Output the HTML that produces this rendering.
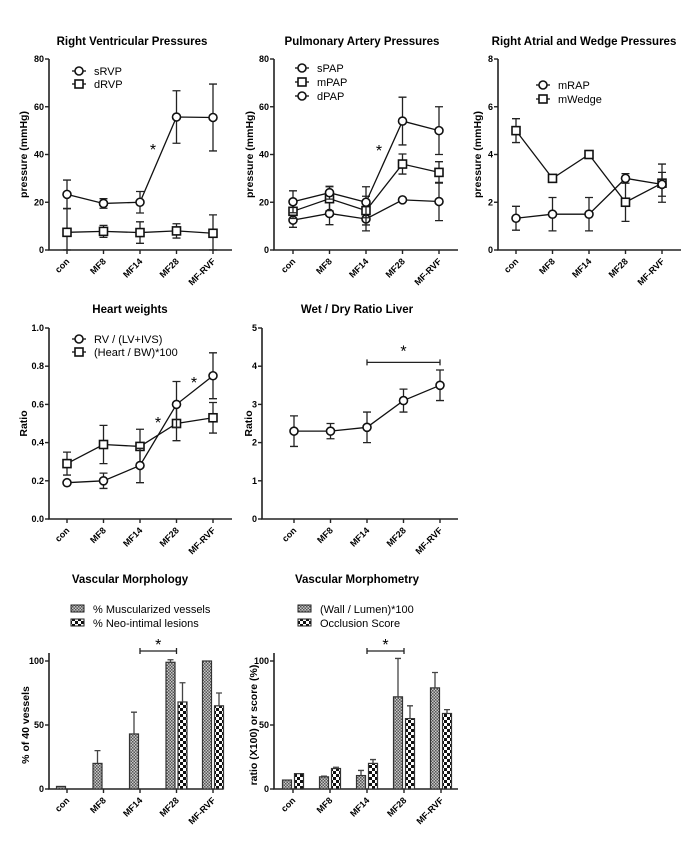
<!DOCTYPE html>
<html><head><meta charset="utf-8">
<style>
html,body{margin:0;padding:0;background:#fff;}
svg{display:block;font-family:"Liberation Sans",Arial,sans-serif;}
.t{font-weight:bold;font-size:11.5px;}
.tk{font-weight:bold;font-size:9px;}
.lg{font-size:11px;}
</style></head>
<body>
<svg id="fig" width="700" height="850" viewBox="0 0 700 850" xmlns="http://www.w3.org/2000/svg">
<defs>
<pattern id="p1" width="3" height="3" patternUnits="userSpaceOnUse"><rect width="3" height="3" fill="#c8c8c8"/><rect width="1.5" height="1.5" fill="#555"/><rect x="1.5" y="1.5" width="1.5" height="1.5" fill="#555"/></pattern>
<pattern id="p2" width="6" height="6" patternUnits="userSpaceOnUse"><rect width="6" height="6" fill="#fff"/><rect width="3" height="3" fill="#111"/><rect x="3" y="3" width="3" height="3" fill="#111"/></pattern>
</defs>
</svg>
<script>
const cats = ["con","MF8","MF14","MF28","MF-RVF"];
// Right ventricular pressures
const sRVP = [23.3,19.5,20,55.7,55.5];
const sRVPerr = [6,2,4.5,11,14];
const dRVP = [7.4,7.8,7.3,8,7];
const dRVPerr = [10,2.5,4.5,3,7.7];
// Pulmonary artery pressures
const sPAP = [20.2,24,20,54,50];
const sPAPerr = [4.6,2.7,6.5,10,10];
const mPAP = [16.2,21.5,16.5,36,32.5];
const mPAPerr = [3,5,6,4.2,4.5];
const dPAP = [12.5,15.3,13,21,20.3];
const dPAPerr = [3,4.7,5,0,8];
// Right atrial and wedge
const mRAP = [1.33,1.5,1.5,3.0,2.75];
const mRAPerr = [0.5,0.7,0.7,0.2,0.5];
const mWedge = [5,3,4,2,2.8];
const mWedgeErr = [0.5,0,0,0.8,0.8];
// Heart weights
const rvRatio = [0.19,0.20,0.28,0.60,0.75];
const rvRatioErr = [0,0.04,0.09,0.12,0.12];
const heartBW = [0.29,0.39,0.38,0.50,0.53];
const heartBWErr = [0.06,0.10,0.09,0.09,0.08];
// Wet/dry liver
const wetDry = [2.3,2.3,2.4,3.1,3.5];
const wetDryErr = [0.4,0.2,0.4,0.3,0.4];
// Vascular morphology
const muscular = [2,20,43,99,100];
const muscularErr = [0,10,17,2,0];
const neoIntimal = [0,0,0,68,65];
const neoIntimalErr = [0,0,0,15,10];
// Vascular morphometry
const wallLumen = [7,9.5,10.5,72,79];
const wallLumenErr = [0,0.5,4,30,12];
const occlusion = [12,16,20,55,59];
const occlusionErr = [0,1,3,10,3];

const svg=document.getElementById('fig');
const NS="http://www.w3.org/2000/svg";
function mk(tag,attrs,parent){const e=document.createElementNS(NS,tag);for(const k in attrs)e.setAttribute(k,attrs[k]);(parent||svg).appendChild(e);return e;}
function txt(s,attrs,parent){const e=mk('text',attrs,parent);e.textContent=s;return e;}

function panel(cfg){
  const g=mk('g',{});
  
  
  const {x0,x1,yTop,yBot,ymax,ticks,cx}=cfg;
  const Y=v=>yBot-(v/ymax)*(yBot-yTop);
  const X=i=>cx[0]+i*(cx[1]-cx[0]);
  const t=txt(cfg.title,{x:cfg.titleX,y:cfg.titleY,'text-anchor':'middle',class:'t'},g);
  
  
  const at=cfg.axisTop!==undefined?cfg.axisTop:yTop;
  const ax=mk('path',{d:`M${x0},${at} V${yBot} H${x1}`,stroke:'#222','stroke-width':1.6,fill:'none'},g);
  
  
  ticks.forEach(v=>{
    mk('line',{x1:x0-4,x2:x0,y1:Y(v),y2:Y(v),stroke:'#222','stroke-width':1.4},g);
    const l=txt(cfg.tickFmt?cfg.tickFmt(v):String(v),{x:x0-5,y:Y(v)+3,'text-anchor':'end',class:'tk'},g);
    
    
  });
  cats.forEach((c,i)=>{
    mk('line',{x1:X(i),x2:X(i),y1:yBot,y2:yBot+4,stroke:'#222','stroke-width':1.4},g);
    const l=txt(c,{x:X(i)+3,y:yBot+12,'text-anchor':'end',class:'tk',transform:`rotate(-45 ${X(i)+3} ${yBot+12})`},g);
    
    
  });
  const yt=txt(cfg.ytitle,{x:cfg.ytX,y:(yTop+yBot)/2,'text-anchor':'middle',class:'tk',style:'font-size:10.5px',transform:`rotate(-90 ${cfg.ytX} ${(yTop+yBot)/2})`},g);
  
  
  return {g,X,Y};
}
function marker(g,shape,x,y){
  if(shape==='c')return mk('circle',{cx:x,cy:y,r:4,fill:'#fff',stroke:'#111','stroke-width':1.6},g);
  return mk('rect',{x:x-4,y:y-4,width:8,height:8,fill:'#fff',stroke:'#111','stroke-width':1.6},g);
}
function lineSeries(p,vals,errs,shape,name){
  const g=mk('g',{},p.g);
  
  
  vals.forEach((v,i)=>{
    if(errs[i]>0){
      const x=p.X(i);
      mk('path',{d:`M${x},${p.Y(v+errs[i])} V${p.Y(Math.max(0,v-errs[i]))} M${x-4},${p.Y(v+errs[i])} H${x+4} M${x-4},${p.Y(Math.max(0,v-errs[i]))} H${x+4}`,stroke:'#222','stroke-width':1.3,fill:'none'},g);
    }
  });
  mk('polyline',{points:vals.map((v,i)=>p.X(i)+','+p.Y(v)).join(' '),fill:'none',stroke:'#111','stroke-width':1.3},g);
  vals.forEach((v,i)=>{const m=marker(g,shape,p.X(i),p.Y(v));});
}
function legendLine(g,x,y,shape,label){
  const lg=mk('g',{},g);
  
  
  mk('line',{x1:x-7,x2:x+7,y1:y,y2:y,stroke:'#111','stroke-width':1.3},lg);
  marker(lg,shape,x,y);
  txt(label,{x:x+15,y:y+4,class:'lg'},lg);
}
function star(g,x,y){const s=txt('*',{x:x,y:y,'text-anchor':'middle',style:'font-size:16px'},g);}
function bracket(g,x1,x2,y){const b=mk('path',{d:`M${x1},${y-3} V${y+3} M${x1},${y} H${x2} M${x2},${y-3} V${y+3}`,stroke:'#222','stroke-width':1.3,fill:'none'},g);}

// Panel 1
let p=panel({name:'rv-pressures-chart',title:'Right Ventricular Pressures',titleX:132,titleY:45,x0:49,x1:232,yTop:59,yBot:250,ymax:80,ticks:[0,20,40,60,80],cx:[67,103.5],ytitle:'pressure (mmHg)',ytX:27});
lineSeries(p,dRVP,dRVPerr,'s','dRVP-series');
lineSeries(p,sRVP,sRVPerr,'c','sRVP-series');
legendLine(p.g,79,71,'c','sRVP');legendLine(p.g,79,84,'s','dRVP');
star(p.g,153,155);
// Panel 2
p=panel({name:'pa-pressures-chart',title:'Pulmonary Artery  Pressures',titleX:362,titleY:45,x0:274,x1:458,yTop:59,yBot:250,ymax:80,ticks:[0,20,40,60,80],cx:[293,329.5],ytitle:'pressure (mmHg)',ytX:253});
lineSeries(p,dPAP,dPAPerr,'c','dPAP-series');
lineSeries(p,mPAP,mPAPerr,'s','mPAP-series');
lineSeries(p,sPAP,sPAPerr,'c','sPAP-series');
legendLine(p.g,302,68,'c','sPAP');legendLine(p.g,302,82,'s','mPAP');legendLine(p.g,302,96,'c','dPAP');
star(p.g,379,156);
// Panel 3
p=panel({name:'ra-wedge-pressures-chart',title:'Right Atrial and  Wedge  Pressures',titleX:584,titleY:45,x0:498,x1:681,yTop:59,yBot:250,ymax:8,ticks:[0,2,4,6,8],cx:[516,552.5],ytitle:'pressure (mmHg)',ytX:481});
lineSeries(p,mWedge,mWedgeErr,'s','mWedge-series');
lineSeries(p,mRAP,mRAPerr,'c','mRAP-series');
legendLine(p.g,543,85,'c','mRAP');legendLine(p.g,543,99,'s','mWedge');
// Panel 4
p=panel({name:'heart-weights-chart',title:'Heart weights',titleX:130,titleY:313,x0:49,x1:232,yTop:328,yBot:519,ymax:1,ticks:[0,0.2,0.4,0.6,0.8,1],tickFmt:v=>v.toFixed(1),cx:[67,103.5],ytitle:'Ratio',ytX:27});
lineSeries(p,heartBW,heartBWErr,'s','heart-bw-series');
lineSeries(p,rvRatio,rvRatioErr,'c','rv-ratio-series');
legendLine(p.g,79,339,'c','RV / (LV+IVS)');legendLine(p.g,79,352,'s','(Heart / BW)*100');
star(p.g,158,428);star(p.g,194,388);
// Panel 5
p=panel({name:'wet-dry-liver-chart',title:'Wet /  Dry  Ratio Liver',titleX:357,titleY:313,x0:262,x1:458,yTop:328,yBot:519,ymax:5,ticks:[0,1,2,3,4,5],cx:[294,330.5],ytitle:'Ratio',ytX:252});
lineSeries(p,wetDry,wetDryErr,'c','wet-dry-series');
bracket(p.g,p.X(2),p.X(4),p.Y(4.1));star(p.g,(p.X(2)+p.X(4))/2,p.Y(4.1)-6);

function barPanel(cfg,v1,e1,v2,e2,l1,l2){
  const p=panel(cfg);
  [[v1,e1,'url(#p1)',-6,'bar1'],[v2,e2,'url(#p2)',6,'bar2']].forEach(([vals,errs,fill,off,nm])=>{
    vals.forEach((v,i)=>{
      const x=p.X(i)+off;
      if(v>0){
        const r=mk('rect',{x:x-4.5,y:p.Y(v),width:9,height:p.Y(0)-p.Y(v),fill:fill,stroke:'#333','stroke-width':1.2},p.g);
        
        
      }
      if(errs[i]>0){
        mk('path',{d:`M${x},${p.Y(v)} V${p.Y(v+errs[i])} M${x-3},${p.Y(v+errs[i])} H${x+3}`,stroke:'#444','stroke-width':1.3,fill:'none'},p.g);
      }
    });
  });
  [[l1,'url(#p1)',609],[l2,'url(#p2)',623]].forEach(([lab,fill,y])=>{
    const lg=mk('g',{},p.g);
    
    
    mk('rect',{x:cfg.lgX,y:y-4,width:13,height:7,fill:fill,stroke:'#222','stroke-width':1},lg);
    txt(lab,{x:cfg.lgX+22,y:y+4,class:'lg'},lg);
  });
  bracket(p.g,p.X(2),p.X(3),651);star(p.g,(p.X(2)+p.X(3))/2,650);
  return p;
}
barPanel({name:'vascular-morphology-chart',title:'Vascular Morphology',titleX:130,titleY:583,x0:49,x1:223,yTop:661,axisTop:653,yBot:789,ymax:100,ticks:[0,50,100],cx:[67,103.5],ytitle:'% of 40 vessels',ytX:29,lgX:71},muscular,muscularErr,neoIntimal,neoIntimalErr,'% Muscularized vessels','% Neo-intimal lesions');
barPanel({name:'vascular-morphometry-chart',title:'Vascular Morphometry',titleX:357,titleY:583,x0:274,x1:458,yTop:661,axisTop:653,yBot:789,ymax:100,ticks:[0,50,100],cx:[293,330],ytitle:'ratio (X100) or score (%)',ytX:257,lgX:298},wallLumen,wallLumenErr,occlusion,occlusionErr,'(Wall / Lumen)*100','Occlusion Score');
</script>
</body></html>
